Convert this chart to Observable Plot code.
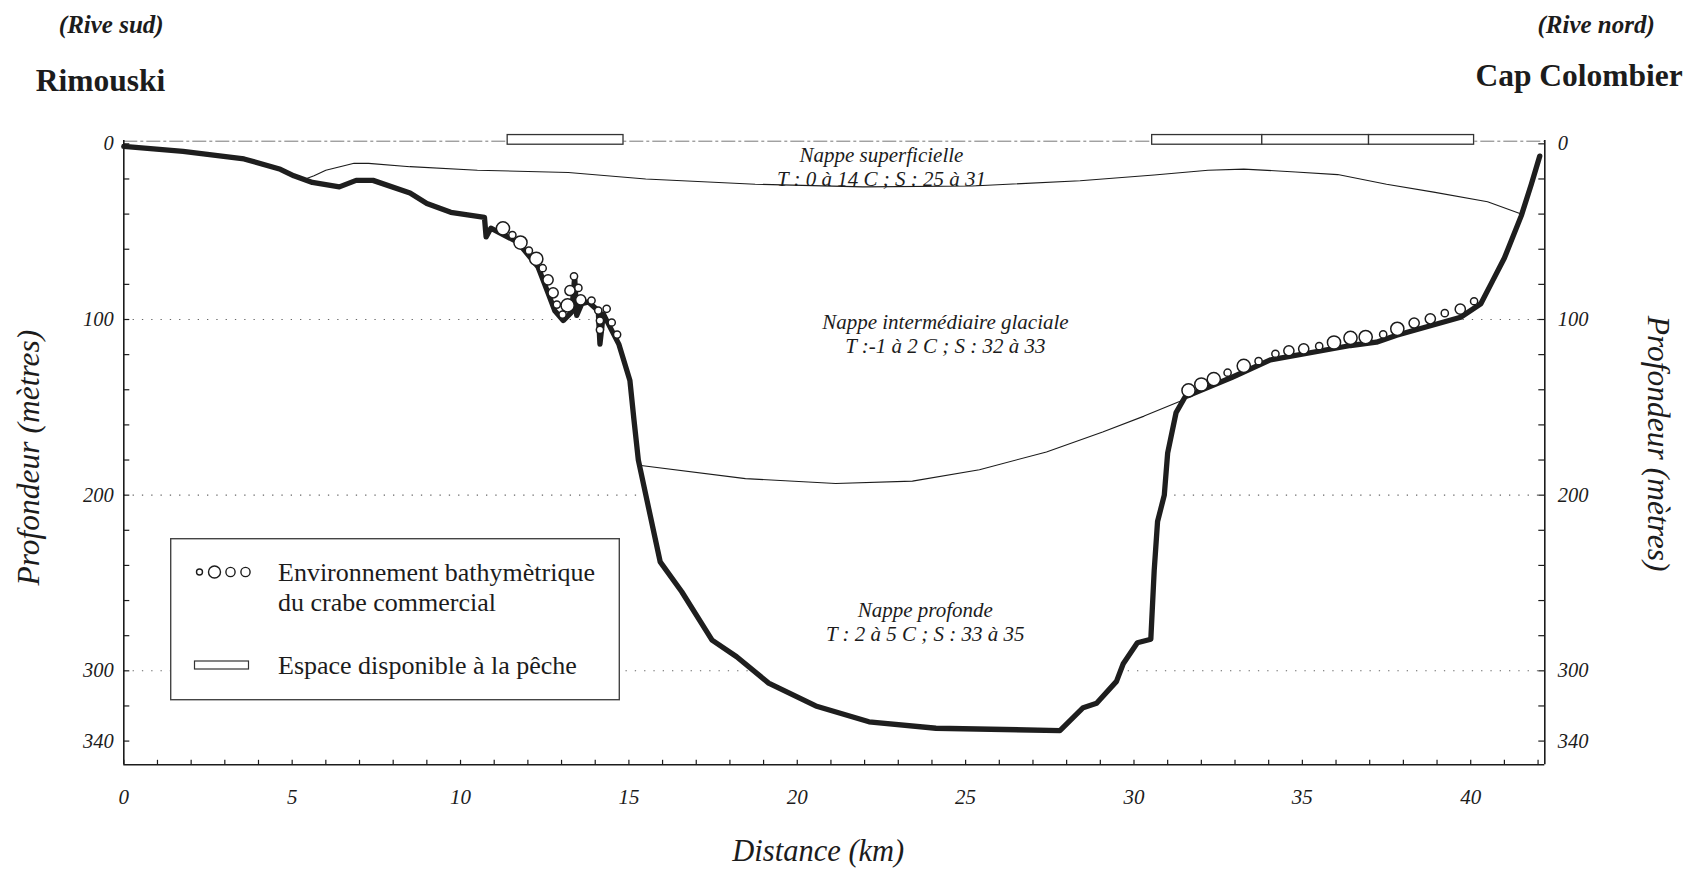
<!DOCTYPE html>
<html>
<head>
<meta charset="utf-8">
<script src="https://cdn.jsdelivr.net/npm/d3@7"></script>
<script src="https://cdn.jsdelivr.net/npm/@observablehq/plot@0.6"></script>
<style>
  body { margin: 0; background: #fff; }
  #wrap { position: relative; width: 1687px; height: 871px; background: #fff; }
  #legend { position: absolute; left: 170px; top: 538px; }
</style>
</head>
<body>
<div id="wrap"></div>
<script>
// ---- Bathymétrie (distance km, profondeur m) ----
const bathyKm = [0, 1.76, 3.57, 4.65, 5.05, 5.6, 6.4, 6.9, 7.4, 8.5, 9.0, 9.71, 10.71, 10.76, 10.9, 11.7, 12.3, 12.6, 12.8, 13.05, 13.3, 13.39, 13.45, 13.6, 13.8, 14.09, 14.14, 14.24, 14.7, 15.03, 15.15, 15.28, 15.93, 16.57, 17.47, 18.2, 19.15, 20.55, 22.13, 24.12, 27.8, 28.49, 28.89, 29.48, 29.68, 30.1, 30.5, 30.6, 30.7, 30.9, 31.0, 31.25, 31.52, 32.9, 34.05, 36.43, 37.2, 37.8, 39.7, 40.3, 40.65, 41.0, 41.5, 41.8, 42.05];
const bathyProf = [1.5, 4.3, 8.6, 14.5, 18.2, 22, 24.5, 20.8, 20.8, 28, 34, 39, 41.8, 53, 48, 56, 70, 85, 95, 100.6, 95.8, 76, 97.7, 91, 90, 95, 114, 96.8, 114, 134.7, 157, 180, 238, 255, 282.5, 292, 307, 320, 329, 332.7, 334, 321, 318.5, 306, 296, 284, 282, 243, 215, 200, 176, 153, 144, 133, 123, 114.8, 112.9, 109, 98.7, 91, 78, 65, 41, 23, 7];

// ---- Limite nappe superficielle / intermédiaire ----
const supKm = [5.35, 5.65, 6.0, 6.84, 7.27, 8.5, 10.5, 13.2, 15.5, 18.75, 21.95, 25.2, 28.4, 30.6, 32.2, 33.26, 34.8, 36.05, 37.5, 38.9, 40.5, 41.5];
const supProf = [20.3, 18.2, 15, 11.1, 11.1, 13, 15, 16.3, 20, 23, 24.5, 24, 21, 17.7, 15, 14.4, 16, 17.5, 23, 27.5, 33, 40];

// ---- Limite nappe intermédiaire / profonde ----
const infKm = [15.3, 18.46, 21.14, 23.42, 25.41, 27.4, 29.07, 30.3, 31.37, 31.52];
const infProf = [183, 190.6, 193.4, 192, 185.5, 175.4, 164, 155, 146.5, 144];

// ---- Environnement bathymétrique du crabe commercial ----
const crabeKm = [11.26, 11.54, 11.78, 12.03, 12.25, 12.44, 12.6, 12.75, 12.86, 13.03, 13.18, 13.25, 13.37, 13.5, 13.57, 13.89, 14.09, 14.14, 14.14, 14.34, 14.49, 14.65,
  31.62, 32.0, 32.37, 32.78, 33.26, 33.7, 34.2, 34.6, 35.04, 35.5, 35.94, 36.43, 36.88, 37.4, 37.82, 38.32, 38.8, 39.23, 39.69, 40.1];
const crabeProf = [48.1, 51.9, 56.2, 60.8, 65.5, 70.8, 77.4, 84.8, 91.5, 97.2, 92, 83.5, 75.4, 82, 88.8, 89.2, 94.9, 100.6, 105.9, 93.9, 101.7, 108.6,
  140.4, 137, 134, 130.3, 126.4, 123.7, 119.5, 117.8, 116.7, 115.2, 113.1, 110.5, 110, 108.5, 105.3, 102, 99.6, 96.4, 94.1, 89.6];
const crabeTaille = [3, 1, 3, 1, 3, 1, 2, 2, 1, 1, 3, 2, 1, 1, 2, 1, 1, 1, 1, 1, 1, 1,
  3, 3, 3, 1, 3, 1, 1, 2, 2, 1, 3, 3, 3, 1, 3, 2, 2, 1, 2, 1];

// ---- Espace disponible à la pêche ----
const pecheDebut = [11.4, 30.54, 33.81, 36.98];
const pecheFin = [14.84, 33.81, 36.98, 40.1];

// ---- Nappes d'eau ----
const nappeTexte = ["Nappe superficielle\nT : 0 à 14 C ; S : 25 à 31",
                    "Nappe intermédiaire glaciale\nT :-1 à 2 C ; S : 32 à 33",
                    "Nappe profonde\nT : 2 à 5 C ; S : 33 à 35"];
const nappeKm = [22.5, 24.4, 23.8];
const nappeProf = [12.8, 108, 272];

// ---- Axes ----
const ticksKm = d3.range(0, 43, 1);
const labelsKm = [0, 5, 10, 15, 20, 25, 30, 35, 40];
const ticksProf = d3.range(0, 341, 20);
const labelsProf = [0, 100, 200, 300, 340];
const grilleProf = [100, 200, 300];

const xMax = 42.2, yTop = -1.9, yBot = 353.5;

const bathy = bathyKm.map((k, i) => ({km: k, prof: bathyProf[i]}));
const sup = supKm.map((k, i) => ({km: k, prof: supProf[i]}));
const inf = infKm.map((k, i) => ({km: k, prof: infProf[i]}));
const crabe = crabeKm.map((k, i) => ({km: k, prof: crabeProf[i], taille: crabeTaille[i]}));
const peche = pecheDebut.map((d, i) => ({x1: d, x2: pecheFin[i]}));
const nappes = nappeTexte.map((t, i) => ({t, km: nappeKm[i], prof: nappeProf[i]}));

const W = 1687, H = 871, mL = 123.3, mR = 142.7, mT = 140, mB = 106.7;
const pw = W - mL - mR, ph = H - mT - mB;
const serif = "'Liberation Serif', 'DejaVu Serif', serif";
const ink = "#1c1c1c";

const chart = Plot.plot({
  width: W, height: H,
  marginLeft: mL, marginRight: mR, marginTop: mT, marginBottom: mB,
  x: {domain: [0, xMax], axis: null},
  y: {domain: [yTop, yBot], reverse: true, axis: null},
  r: {type: "linear", domain: [1, 3], range: [3.6, 6.6]},
  style: {fontFamily: serif, background: "white", color: ink},
  marks: [
    Plot.ruleY(grilleProf, {y: d => d, x1: 0, x2: xMax, stroke: "#666", strokeWidth: 1.1, strokeDasharray: "1.3 8"}),
    Plot.areaY(bathy, {x: "km", y1: yTop, y2: "prof", fill: "white", curve: "linear"}),
    Plot.ruleY([yTop + 0.4], {x1: 0, x2: xMax, stroke: "#777", strokeWidth: 1, strokeDasharray: "14 3 3 3"}),
    Plot.rect(peche, {x1: "x1", x2: "x2", y1: -5, y2: 0.5, fill: "white", stroke: "#333", strokeWidth: 1.3}),
    Plot.line(sup, {x: "km", y: "prof", stroke: ink, strokeWidth: 1.1}),
    Plot.line(inf, {x: "km", y: "prof", stroke: ink, strokeWidth: 1.1}),
    Plot.line(bathy, {x: "km", y: "prof", stroke: "#1e1e1e", strokeWidth: 5.3, strokeLinejoin: "round", strokeLinecap: "round"}),
    Plot.dot(crabe, {x: "km", y: "prof", r: "taille", fill: "white", stroke: ink, strokeWidth: 1.5}),
    // cadre
    Plot.ruleX([0], {y1: yTop, y2: yBot, stroke: ink, strokeWidth: 1.6}),
    Plot.ruleX([xMax], {y1: yTop, y2: yBot, stroke: ink, strokeWidth: 1.6}),
    Plot.ruleY([yBot], {x1: 0, x2: xMax, stroke: ink, strokeWidth: 1.4}),
    // graduations
    Plot.tickY(ticksProf, {y: d => d, insetRight: pw - 6, stroke: ink, strokeWidth: 1.2}),
    Plot.tickY(ticksProf, {y: d => d, insetLeft: pw - 6, stroke: ink, strokeWidth: 1.2}),
    Plot.tickX(ticksKm, {x: d => d, insetTop: ph - 4.5, stroke: ink, strokeWidth: 1.2}),
    Plot.text(labelsProf, {y: d => d, text: d => String(d), frameAnchor: "left", dx: -10, textAnchor: "end", lineAnchor: "middle", fontSize: 20.5, fontStyle: "italic", fill: ink}),
    Plot.text(labelsProf, {y: d => d, text: d => String(d), frameAnchor: "right", dx: 13, textAnchor: "start", lineAnchor: "middle", fontSize: 20.5, fontStyle: "italic", fill: ink}),
    Plot.text(labelsKm, {x: d => d, text: d => String(d), frameAnchor: "bottom", dy: 32, textAnchor: "middle", lineAnchor: "middle", fontSize: 21, fontStyle: "italic", fill: ink}),
    // nappes
    Plot.text(nappes, {x: "km", y: "prof", text: "t", fontSize: 21, fontStyle: "italic", lineHeight: 1.13, fill: ink}),
    // titres d'axes
    Plot.text(["Profondeur (mètres)"], {text: d => d, frameAnchor: "left", dx: -95, dy: 5, rotate: -90, textAnchor: "middle", lineAnchor: "middle", fontSize: 31.5, fontStyle: "italic", fill: ink}),
    Plot.text(["Profondeur (mètres)"], {text: d => d, frameAnchor: "right", dx: 113, dy: -9, rotate: 90, textAnchor: "middle", lineAnchor: "middle", fontSize: 31.5, fontStyle: "italic", fill: ink}),
    Plot.text(["Distance (km)"], {text: d => d, frameAnchor: "bottom", dx: -16, dy: 86, textAnchor: "middle", lineAnchor: "middle", fontSize: 30.5, fontStyle: "italic", fill: ink}),
    // rives
    Plot.text(["(Rive sud)"], {text: d => d, frameAnchor: "top-left", dx: -65, dy: -116, textAnchor: "start", lineAnchor: "middle", fontSize: 25, fontStyle: "italic", fontWeight: "bold", fill: ink}),
    Plot.text(["Rimouski"], {text: d => d, frameAnchor: "top-left", dx: -88, dy: -60, textAnchor: "start", lineAnchor: "middle", fontSize: 31.5, fontWeight: "bold", fill: ink}),
    Plot.text(["(Rive nord)"], {text: d => d, frameAnchor: "top-right", dx: 110, dy: -116, textAnchor: "end", lineAnchor: "middle", fontSize: 25, fontStyle: "italic", fontWeight: "bold", fill: ink}),
    Plot.text(["Cap Colombier"], {text: d => d, frameAnchor: "top-right", dx: 138, dy: -65, textAnchor: "end", lineAnchor: "middle", fontSize: 31.5, fontWeight: "bold", fill: ink})
  ]
});
document.getElementById("wrap").appendChild(chart);

// ---- Légende ----
const legend = document.createElement("div");
legend.id = "legend";
legend.innerHTML = `
<svg width="451" height="163" style="font-family:${serif.replace(/'/g, '&quot;')}">
  <rect x="0.7" y="0.7" width="448.6" height="161" fill="white" stroke="#444" stroke-width="1.4"/>
  <circle cx="29.5" cy="34" r="3" fill="white" stroke="${ink}" stroke-width="1.4"/>
  <circle cx="44.5" cy="34" r="6" fill="white" stroke="${ink}" stroke-width="1.4"/>
  <circle cx="60.5" cy="34" r="4.6" fill="white" stroke="${ink}" stroke-width="1.4"/>
  <circle cx="75.5" cy="34" r="4.6" fill="white" stroke="${ink}" stroke-width="1.4"/>
  <text x="108" y="34" dy="0.35em" font-size="26" fill="${ink}">Environnement bathymètrique</text>
  <text x="108" y="64" dy="0.35em" font-size="26" fill="${ink}">du crabe commercial</text>
  <rect x="24.5" y="123" width="54" height="8" fill="white" stroke="#333" stroke-width="1.2"/>
  <text x="108" y="127" dy="0.35em" font-size="26" fill="${ink}">Espace disponible à la pêche</text>
</svg>`;
document.getElementById("wrap").appendChild(legend);
</script>
</body>
</html>
